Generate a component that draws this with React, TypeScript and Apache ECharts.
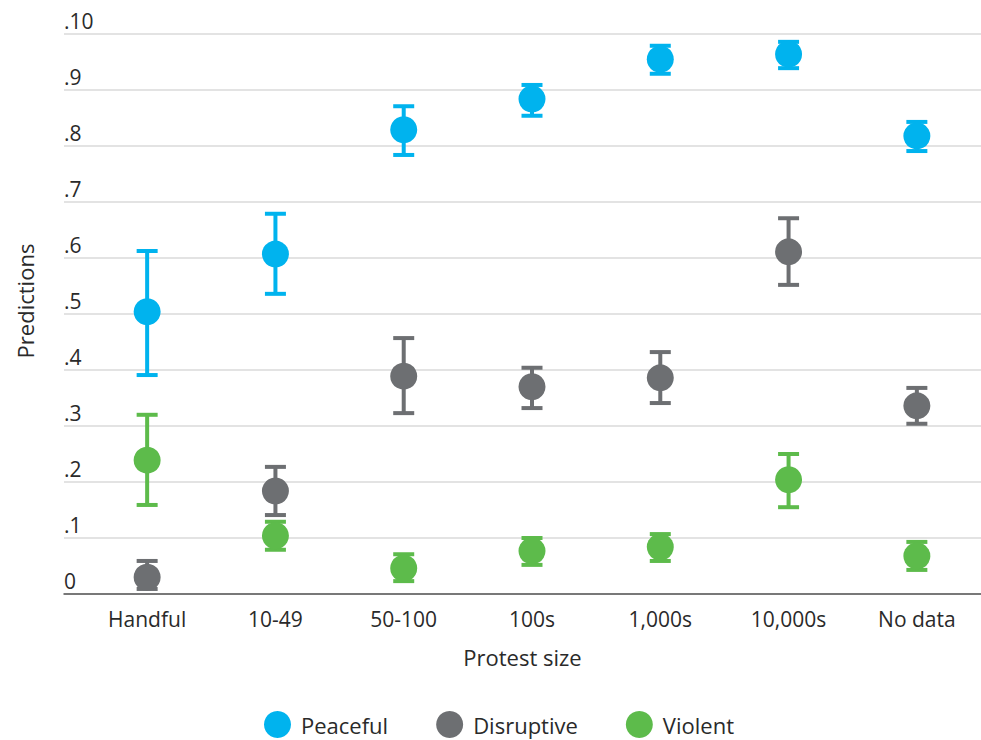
import React, { useEffect, useRef } from "react";
import * as echarts from "echarts";

const categories = ["Handful", "10-49", "50-100", "100s", "1,000s", "10,000s", "No data"];
const seriesNames = ["Peaceful", "Disruptive", "Violent"];
const colors = ["#00B3EE", "#6D6F72", "#5DBB4B"];

const peacefulMean = [0.504, 0.607, 0.829, 0.884, 0.955, 0.964, 0.818];
const peacefulLow = [0.391, 0.536, 0.784, 0.854, 0.929, 0.939, 0.791];
const peacefulHigh = [0.6125, 0.679, 0.871, 0.909, 0.979, 0.986, 0.843];

const disruptiveMean = [0.03, 0.184, 0.389, 0.37, 0.386, 0.611, 0.336];
const disruptiveLow = [0.009, 0.141, 0.323, 0.332, 0.341, 0.552, 0.304];
const disruptiveHigh = [0.059, 0.227, 0.457, 0.404, 0.432, 0.671, 0.368];

const violentMean = [0.239, 0.104, 0.046, 0.077, 0.084, 0.204, 0.068];
const violentLow = [0.159, 0.079, 0.023, 0.052, 0.059, 0.155, 0.043];
const violentHigh = [0.32, 0.129, 0.071, 0.1, 0.107, 0.25, 0.093];

const means = [peacefulMean, disruptiveMean, violentMean];
const lows = [peacefulLow, disruptiveLow, violentLow];
const highs = [peacefulHigh, disruptiveHigh, violentHigh];

const FONT = "'Open Sans', 'Liberation Sans', sans-serif";
const TEXT_COLOR = "#2a2a2a";
const FW = 400;

export default function App() {
  const ref = useRef<HTMLDivElement>(null);
  useEffect(() => {
    document.body.style.margin = "0";
    if (!ref.current) return;
    const chart = echarts.init(ref.current, undefined, { renderer: "svg" });
    const scatterSeries = seriesNames.map((name, s) => ({
      name,
      type: "scatter",
      xAxisIndex: 1,
      yAxisIndex: 1,
      symbol: "circle",
      symbolSize: 27,
      z: 3,
      itemStyle: { color: colors[s], opacity: 1 },
      data: means[s],
    }));
    const errorSeries = seriesNames.map((name, s) => ({
      name,
      type: "custom",
      xAxisIndex: 1,
      yAxisIndex: 1,
      z: 2,
      itemStyle: { color: colors[s] },
      data: categories.map((_, i) => [i, lows[s][i], highs[s][i]]),
      renderItem: (params: any, api: any) => {
        const x = api.value(0);
        const pLo = api.coord([x, api.value(1)]);
        const pHi = api.coord([x, api.value(2)]);
        const hw = 10.5;
        const st = { stroke: colors[s], lineWidth: 4 };
        return {
          type: "group",
          children: [
            { type: "line", shape: { x1: pLo[0], y1: pLo[1], x2: pHi[0], y2: pHi[1] }, style: st },
            { type: "line", shape: { x1: pLo[0] - hw, y1: pLo[1], x2: pLo[0] + hw, y2: pLo[1] }, style: st },
            { type: "line", shape: { x1: pHi[0] - hw, y1: pHi[1], x2: pHi[0] + hw, y2: pHi[1] }, style: st },
          ],
        };
      },
    }));
    chart.setOption({
      animation: false,
      grid: [
        { left: 64, right: 0, top: 34, height: 560 },
        { left: 83, right: -10, top: 34, height: 560 },
      ],
      xAxis: [
        {
          gridIndex: 0,
          type: "value",
          min: 0,
          max: 1,
          axisLine: { show: true, lineStyle: { color: "#555", width: 1.5 } },
          axisTick: { show: false },
          axisLabel: { show: false },
          splitLine: { show: false },
          name: "Protest size",
          nameLocation: "middle",
          nameGap: 52,
          nameTextStyle: { fontFamily: FONT, fontSize: 22, fontWeight: FW, color: TEXT_COLOR },
          z: 5,
        },
        {
          gridIndex: 1,
          type: "category",
          data: categories,
          boundaryGap: true,
          axisLine: { show: false },
          axisTick: { show: false },
          axisLabel: { fontFamily: FONT, fontSize: 21, fontWeight: FW, color: TEXT_COLOR, margin: 14 },
        },
      ],
      yAxis: [
        {
          gridIndex: 0,
          type: "value",
          min: 0,
          max: 1,
          interval: 0.1,
          axisLine: { show: false },
          axisTick: { show: false },
          splitLine: { show: true, lineStyle: { color: "#dadada", width: 1.5 } },
          axisLabel: {
            inside: true,
            margin: 0,
            verticalAlign: "bottom",
            padding: [0, 0, 3, 0],
            fontFamily: FONT,
            fontSize: 21,
            fontWeight: FW,
            color: TEXT_COLOR,
            formatter: (v: number) => {
              const n = Math.round(v * 10);
              return n === 0 ? "0" : "." + n;
            },
          },
        },
        {
          gridIndex: 1,
          type: "value",
          min: 0,
          max: 1,
          show: false,
        },
      ],
      legend: {
        data: seriesNames,
        top: 711,
        left: 264,
        padding: 0,
        icon: "circle",
        itemWidth: 27,
        itemHeight: 27,
        itemGap: 48,
        textStyle: { fontFamily: FONT, fontSize: 22, fontWeight: FW, color: TEXT_COLOR, padding: [0, 0, 0, 5] },
      },
      graphic: [
        {
          type: "text",
          x: 25,
          y: 301,
          rotation: Math.PI / 2,
          style: {
            text: "Predictions",
            fontFamily: FONT,
            fontSize: 22,
            fontWeight: FW,
            fill: TEXT_COLOR,
            textAlign: "center",
            textVerticalAlign: "middle",
          },
        },
      ],
      series: [...errorSeries, ...scatterSeries],
    });
    return () => chart.dispose();
  }, []);
  return <div ref={ref} style={{ width: 981, height: 740 }} />;
}
